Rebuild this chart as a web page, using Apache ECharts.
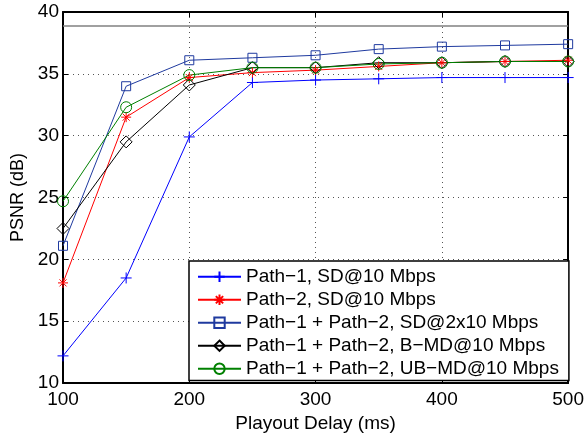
<!DOCTYPE html>
<html>
<head>
<meta charset="utf-8">
<script src="https://cdn.jsdelivr.net/npm/echarts@6/dist/echarts.min.js"></script>
<style>
  html, body { margin: 0; padding: 0; background: #fff; }
  #chart { width: 587px; height: 438px; }
</style>
</head>
<body>
<div id="chart"></div>
<script>
    "use strict";

    // playout delay (ms)
    var delays = [100, 150, 200, 250, 300, 350, 400, 450, 500];

    // PSNR (dB) per scheme
    var path1SD = [12.2, 18.5, 29.9, 34.3, 34.5, 34.6, 34.7, 34.7, 34.7];
    var path2SD = [18.1, 31.5, 34.7, 35.1, 35.3, 35.6, 35.9, 36.0, 36.1];
    var bothSD = [21.1, 34.0, 36.1, 36.3, 36.5, 37.0, 37.2, 37.3, 37.4];
    var bothBMD = [22.5, 29.5, 34.1, 35.5, 35.5, 35.9, 35.9, 36.0, 36.0];
    var bothUBMD = [24.7, 32.3, 34.9, 35.5, 35.5, 35.8, 35.9, 36.0, 36.0];

    var upperBound = 38.9;

    var names = [
        'Path\u22121, SD@10 Mbps',
        'Path\u22122, SD@10 Mbps',
        'Path\u22121 + Path\u22122, SD@2x10 Mbps',
        'Path\u22121 + Path\u22122, B\u2212MD@10 Mbps',
        'Path\u22121 + Path\u22122, UB\u2212MD@10 Mbps'
    ];

    var plusSym = 'path://M5,0L5,10M0,5L10,5';
    var starSym = 'path://M5,0L5,10M0,5L10,5M1.5,1.5L8.5,8.5M8.5,1.5L1.5,8.5';

    function pairs(ys) {
        return delays.map(function (x, i) { return [x, ys[i]]; });
    }

    function makeSeries(name, ys, color, symbol, size) {
        return {
            name: name,
            type: 'line',
            data: pairs(ys),
            symbol: symbol,
            symbolSize: size,
            showAllSymbol: true,
            lineStyle: { color: color, width: 1 },
            itemStyle: { color: 'rgba(0,0,0,0)', borderColor: color, borderWidth: 1 },
            emphasis: { disabled: true },
            z: 3
        };
    }

    var font = "'Liberation Sans', Arial, Helvetica, sans-serif";

    var series = [
        makeSeries(names[0], path1SD, '#0000ff', plusSym, 11),
        makeSeries(names[1], path2SD, '#ff0000', starSym, 10),
        makeSeries(names[2], bothSD, '#1f3a9f', 'rect', 9),
        makeSeries(names[3], bothBMD, '#000000', 'diamond', 12),
        makeSeries(names[4], bothUBMD, '#008000', 'circle', 11)
    ];

    series[0].markLine = {
        silent: true,
        symbol: 'none',
        label: { show: false },
        lineStyle: { color: '#808080', width: 1.5, type: 'solid' },
        data: [{ yAxis: upperBound }]
    };

    var gridLine = { show: true, lineStyle: { color: '#555', width: 1, type: [1, 4] } };
    var boxLine = { show: true, onZero: false, lineStyle: { color: '#000', width: 2 } };
    var inTick = { show: true, inside: true, length: 5, lineStyle: { color: '#000' } };

    var chart = echarts.init(document.getElementById('chart'));
    chart.setOption({
        animation: false,
        backgroundColor: '#fff',
        textStyle: { fontFamily: font },
        grid: { left: 63, right: 17, top: 12, bottom: 50, show: false },
        legend: {
            data: names,
            orient: 'vertical',
            left: 189,
            top: 261,
            padding: [6, 10, 2, 8],
            itemWidth: 43,
            itemHeight: 13,
            itemGap: 3.5,
            backgroundColor: '#fff',
            borderColor: '#000',
            borderWidth: 1.5,
            textStyle: { fontSize: 19, lineHeight: 19.5, color: '#000', fontFamily: font }
        },
        xAxis: [{
            type: 'value',
            min: 100, max: 500, interval: 100,
            name: 'Playout Delay (ms)',
            nameLocation: 'middle',
            nameGap: 27,
            nameTextStyle: { fontSize: 19, color: '#000' },
            axisLine: boxLine,
            axisTick: inTick,
            axisLabel: { fontSize: 19, color: '#000', margin: 7 },
            splitLine: gridLine
        }, {
            type: 'value',
            position: 'top',
            min: 100, max: 500, interval: 100,
            axisLine: boxLine,
            axisTick: inTick,
            axisLabel: { show: false },
            splitLine: { show: false }
        }],
        yAxis: [{
            type: 'value',
            min: 10, max: 40, interval: 5,
            name: 'PSNR (dB)',
            nameLocation: 'middle',
            nameGap: 28,
            nameTextStyle: { fontSize: 18, color: '#000' },
            axisLine: boxLine,
            axisTick: inTick,
            axisLabel: { fontSize: 19, color: '#000', margin: 4 },
            splitLine: gridLine
        }, {
            type: 'value',
            position: 'right',
            min: 10, max: 40, interval: 5,
            axisLine: boxLine,
            axisTick: inTick,
            axisLabel: { show: false },
            splitLine: { show: false }
        }],
        series: series
    });
</script>
</body>
</html>
